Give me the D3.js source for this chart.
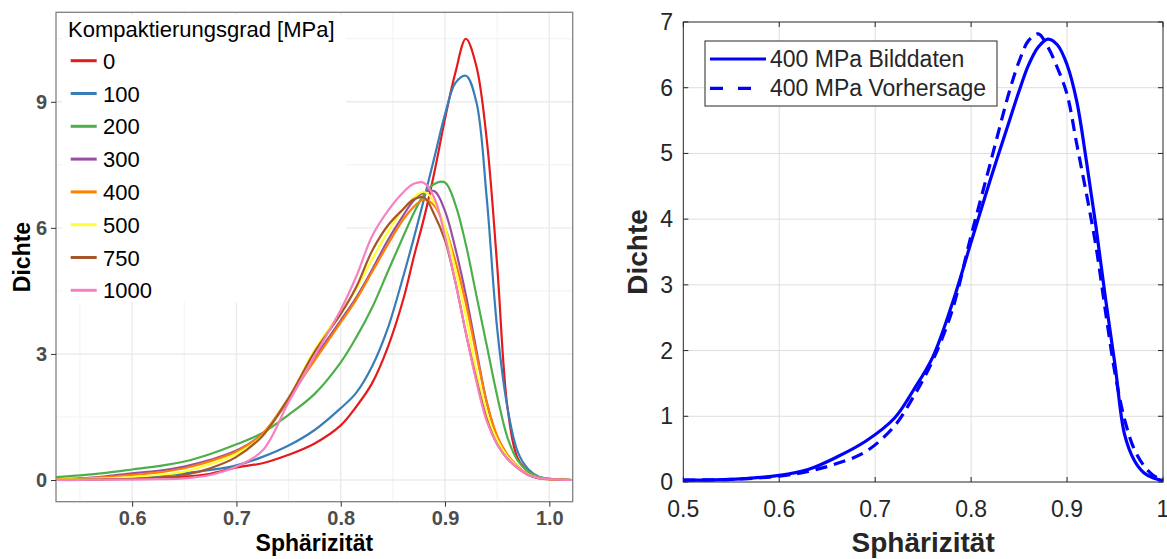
<!DOCTYPE html>
<html>
<head>
<meta charset="utf-8">
<script src="https://d3js.org/d3.v7.min.js"></script>
<style>
  body { margin: 0; background: #fff; }
  svg text { font-family: "Liberation Sans", Arial, sans-serif; }
</style>
</head>
<body>
<div id="chart"></div>
<script>
// ---- data, left panel (density per compaction level) ----
const xsLeft = [0.527, 0.55, 0.575, 0.6, 0.625, 0.65, 0.675, 0.7, 0.725, 0.75, 0.775, 0.8, 0.815, 0.83, 0.845,
  0.86, 0.87, 0.88, 0.89, 0.9, 0.91, 0.92, 0.93, 0.94, 0.95, 0.96, 0.97, 0.98, 0.99, 1.0, 1.022]
const levels = ["0", "100", "200", "300", "400", "500", "750", "1000"]
const levelColors = ["#E41A1C", "#377EB8", "#4DAF4A", "#984EA3", "#FF7F00", "#FFFF33", "#A65628", "#F781BF"]
const dens0    = [0.01, 0.01, 0.02, 0.03, 0.05, 0.08, 0.15, 0.3, 0.4, 0.6, 0.87, 1.3, 1.75, 2.3, 3.15,
  4.3, 5.3, 6.25, 7.35, 8.6, 9.7, 10.5, 9.85, 8.1, 5.1, 1.7, 0.5, 0.2, 0.07, 0.02, 0]
const dens100  = [0.01, 0.02, 0.04, 0.06, 0.1, 0.16, 0.24, 0.35, 0.55, 0.82, 1.19, 1.71, 2.08, 2.7, 3.6,
  4.85, 5.75, 6.7, 7.7, 8.7, 9.45, 9.62, 9.0, 6.7, 3.6, 1.7, 0.65, 0.25, 0.08, 0.03, 0]
const dens200  = [0.07, 0.11, 0.17, 0.25, 0.33, 0.44, 0.62, 0.85, 1.12, 1.55, 2.05, 2.8, 3.4, 4.1, 4.95,
  5.8, 6.35, 6.8, 7.05, 7.08, 6.55, 5.6, 4.4, 3.2, 2.0, 1.0, 0.45, 0.2, 0.07, 0.03, 0]
const dens300  = [0.02, 0.04, 0.09, 0.16, 0.22, 0.32, 0.48, 0.7, 1.1, 1.9, 2.9, 3.8, 4.35, 5.0, 5.7,
  6.3, 6.65, 6.85, 6.87, 6.4, 5.5, 4.4, 3.1, 1.85, 1.0, 0.55, 0.3, 0.12, 0.04, 0.02, 0]
const dens400  = [0.01, 0.03, 0.07, 0.12, 0.18, 0.28, 0.45, 0.68, 1.1, 1.95, 2.85, 3.75, 4.3, 4.95, 5.6,
  6.2, 6.5, 6.68, 6.52, 6.0, 5.2, 4.2, 3.0, 1.85, 1.05, 0.6, 0.32, 0.14, 0.05, 0.02, 0]
const dens500  = [0.01, 0.02, 0.04, 0.07, 0.12, 0.2, 0.38, 0.62, 1.05, 1.95, 3.1, 4.0, 4.55, 5.25, 5.9,
  6.45, 6.72, 6.86, 6.6, 6.0, 5.0, 3.9, 2.6, 1.6, 0.95, 0.55, 0.3, 0.13, 0.05, 0.02, 0]
const dens750  = [0.0, 0.01, 0.02, 0.03, 0.06, 0.12, 0.28, 0.55, 1.05, 1.95, 3.05, 3.95, 4.6, 5.45, 6.05,
  6.45, 6.68, 6.72, 6.3, 5.7, 4.7, 3.5, 2.4, 1.45, 0.85, 0.5, 0.28, 0.12, 0.05, 0.02, 0]
const dens1000 = [0.0, 0.0, 0.01, 0.01, 0.02, 0.04, 0.12, 0.32, 0.7, 1.85, 2.95, 4.05, 4.85, 5.8, 6.4,
  6.85, 7.05, 7.07, 6.7, 5.8, 4.7, 3.5, 2.35, 1.4, 0.85, 0.5, 0.28, 0.12, 0.05, 0.02, 0]
const densLeft = [dens0, dens100, dens200, dens300, dens400, dens500, dens750, dens1000]
const xTicksLeft = [0.6, 0.7, 0.8, 0.9, 1.0]
const yTicksLeft = [0, 3, 6, 9]

// ---- data, right panel (400 MPa image vs prediction) ----
const xsRight = [0.5, 0.55, 0.6, 0.63, 0.66, 0.69, 0.72, 0.74, 0.76, 0.78, 0.8, 0.82, 0.84, 0.85, 0.86,
  0.87, 0.88, 0.89, 0.9, 0.91, 0.92, 0.93, 0.94, 0.95, 0.96, 0.97, 0.98, 0.99, 1.0]
const bilddaten   = [0.03, 0.04, 0.1, 0.19, 0.38, 0.62, 0.97, 1.4, 1.9, 2.7, 3.65, 4.6, 5.5, 5.95, 6.35,
  6.62, 6.74, 6.65, 6.35, 5.8, 4.9, 3.9, 2.8, 1.78, 0.72, 0.33, 0.14, 0.06, 0.02]
const vorhersage  = [0.03, 0.04, 0.09, 0.16, 0.28, 0.46, 0.85, 1.3, 1.85, 2.6, 3.75, 4.85, 5.95, 6.4, 6.72,
  6.82, 6.62, 6.3, 5.9, 5.15, 4.4, 3.6, 2.6, 1.65, 0.95, 0.5, 0.25, 0.1, 0.03]
const legendRight = ["400 MPa Bilddaten", "400 MPa Vorhersage"]
const xTicksRight = [0.5, 0.6, 0.7, 0.8, 0.9, 1]
const yTicksRight = [0, 1, 2, 3, 4, 5, 6, 7]

const W = 1167, H = 559

var svg = d3.select("#chart").append("svg")
  .attr("width", W)
  .attr("height", H)

// ================= LEFT PANEL (ggplot look) =================
const L = {left: 56, right: 572.7, top: 12.3, bottom: 501.7}

var xL = d3.scaleLinear().domain([0.527, 1.0224]).range([L.left, L.right])
var yL = d3.scaleLinear().domain([-0.516, 11.13]).range([L.bottom, L.top])

var gL = svg.append("g")

// minor grid
gL.append("g").selectAll("line")
  .data([0.55, 0.65, 0.75, 0.85, 0.95])
  .enter().append("line")
  .attr("x1", d => xL(d)).attr("x2", d => xL(d))
  .attr("y1", L.top).attr("y2", L.bottom)
  .attr("stroke", "#f2f2f2").attr("stroke-width", 1)
gL.append("g").selectAll("line")
  .data([1.5, 4.5, 7.5, 10.5])
  .enter().append("line")
  .attr("x1", L.left).attr("x2", L.right)
  .attr("y1", d => yL(d)).attr("y2", d => yL(d))
  .attr("stroke", "#f2f2f2").attr("stroke-width", 1)
// major grid
gL.append("g").selectAll("line")
  .data(xTicksLeft)
  .enter().append("line")
  .attr("x1", d => xL(d)).attr("x2", d => xL(d))
  .attr("y1", L.top).attr("y2", L.bottom)
  .attr("stroke", "#ebebeb").attr("stroke-width", 1.4)
gL.append("g").selectAll("line")
  .data(yTicksLeft)
  .enter().append("line")
  .attr("x1", L.left).attr("x2", L.right)
  .attr("y1", d => yL(d)).attr("y2", d => yL(d))
  .attr("stroke", "#ebebeb").attr("stroke-width", 1.4)

// legend background hides the grid (drawn before the curves)
gL.append("rect")
  .attr("x", 62).attr("y", 15)
  .attr("width", 284).attr("height", 287)
  .attr("fill", "#fff")

svg.append("clipPath").attr("id", "clipL")
  .append("rect")
  .attr("x", L.left).attr("y", L.top)
  .attr("width", L.right - L.left).attr("height", L.bottom - L.top)

var lineL = d3.line()
  .x(d => xL(d[0]))
  .y(d => yL(d[1]))
  .curve(d3.curveCatmullRom.alpha(0.5))

gL.append("g").attr("clip-path", "url(#clipL)")
  .selectAll("path")
  .data(densLeft)
  .enter().append("path")
  .attr("fill", "none")
  .attr("stroke", (d, i) => levelColors[i])
  .attr("stroke-width", 2.2)
  .attr("d", d => lineL(d.map((v, j) => [xsLeft[j], v])))

gL.append("text")
  .attr("x", 68).attr("y", 37)
  .style("font-size", "22px")
  .attr("fill", "#000")
  .text("Kompaktierungsgrad [MPa]")
var legL = gL.append("g").selectAll("g")
  .data(levels)
  .enter().append("g")
  .attr("transform", (d, i) => "translate(0," + (60.7 + i * 32.8) + ")")
legL.append("line")
  .attr("x1", 70.7).attr("x2", 96.7)
  .attr("stroke", (d, i) => levelColors[i])
  .attr("stroke-width", 3)
legL.append("text")
  .attr("x", 103).attr("y", 8)
  .style("font-size", "22px")
  .attr("fill", "#000")
  .text(d => d)

// panel border
gL.append("rect")
  .attr("x", L.left).attr("y", L.top)
  .attr("width", L.right - L.left).attr("height", L.bottom - L.top)
  .attr("fill", "none").attr("stroke", "#808080").attr("stroke-width", 1.3)

// axes
var axXL = gL.append("g")
  .attr("transform", "translate(0," + L.bottom + ")")
  .call(d3.axisBottom(xL).tickValues(xTicksLeft).tickFormat(d3.format(".1f")).tickSize(5).tickPadding(4))
var axYL = gL.append("g")
  .attr("transform", "translate(" + L.left + ",0)")
  .call(d3.axisLeft(yL).tickValues(yTicksLeft).tickSize(5).tickPadding(4))
;[axXL, axYL].forEach(a => {
  a.select(".domain").remove()
  a.selectAll("line").attr("stroke", "#333")
  a.selectAll("text")
    .style("font-size", "20px")
    .style("font-weight", "bold")
    .style("font-family", "'Liberation Sans', Arial, sans-serif")
    .attr("fill", "#4d4d4d")
})

gL.append("text")
  .attr("x", (L.left + L.right) / 2).attr("y", 551)
  .attr("text-anchor", "middle")
  .style("font-size", "23px").style("font-weight", "bold")
  .text("Sphärizität")
gL.append("text")
  .attr("transform", "translate(30," + ((L.top + L.bottom) / 2) + ") rotate(-90)")
  .attr("text-anchor", "middle")
  .style("font-size", "23px").style("font-weight", "bold")
  .text("Dichte")

// ================= RIGHT PANEL (MATLAB look) =================
const R = {left: 683.3, right: 1163, top: 22, bottom: 482}

var xR = d3.scaleLinear().domain([0.5, 1]).range([R.left, R.right])
var yR = d3.scaleLinear().domain([0, 7]).range([R.bottom, R.top])

var gR = svg.append("g")

gR.append("g").selectAll("line")
  .data(xTicksRight.slice(1, -1))
  .enter().append("line")
  .attr("x1", d => xR(d)).attr("x2", d => xR(d))
  .attr("y1", R.top).attr("y2", R.bottom)
  .attr("stroke", "#dedede").attr("stroke-width", 1)
gR.append("g").selectAll("line")
  .data(yTicksRight.slice(1, -1))
  .enter().append("line")
  .attr("x1", R.left).attr("x2", R.right)
  .attr("y1", d => yR(d)).attr("y2", d => yR(d))
  .attr("stroke", "#dedede").attr("stroke-width", 1)

var lineR = d3.line()
  .x(d => xR(d[0]))
  .y(d => yR(d[1]))
  .curve(d3.curveCatmullRom.alpha(0.5))

gR.append("path")
  .attr("fill", "none").attr("stroke", "#0000ff").attr("stroke-width", 3.2)
  .attr("d", lineR(bilddaten.map((v, j) => [xsRight[j], v])))
gR.append("path")
  .attr("fill", "none").attr("stroke", "#0000ff").attr("stroke-width", 3.2)
  .attr("stroke-dasharray", "12,7")
  .attr("d", lineR(vorhersage.map((v, j) => [xsRight[j], v])))

// box with inward ticks on all sides
gR.append("rect")
  .attr("x", R.left).attr("y", R.top)
  .attr("width", R.right - R.left).attr("height", R.bottom - R.top)
  .attr("fill", "none").attr("stroke", "#262626").attr("stroke-width", 1)
var tk = 5
xTicksRight.forEach(function(t) {
  gR.append("line").attr("x1", xR(t)).attr("x2", xR(t)).attr("y1", R.bottom).attr("y2", R.bottom - tk).attr("stroke", "#262626")
  gR.append("line").attr("x1", xR(t)).attr("x2", xR(t)).attr("y1", R.top).attr("y2", R.top + tk).attr("stroke", "#262626")
})
yTicksRight.forEach(function(t) {
  gR.append("line").attr("x1", R.left).attr("x2", R.left + tk).attr("y1", yR(t)).attr("y2", yR(t)).attr("stroke", "#262626")
  gR.append("line").attr("x1", R.right).attr("x2", R.right - tk).attr("y1", yR(t)).attr("y2", yR(t)).attr("stroke", "#262626")
})

gR.append("g").selectAll("text")
  .data(xTicksRight)
  .enter().append("text")
  .attr("x", d => xR(d)).attr("y", 517)
  .attr("text-anchor", "middle")
  .style("font-size", "23px").attr("fill", "#262626")
  .text(d => d)
gR.append("g").selectAll("text")
  .data(yTicksRight)
  .enter().append("text")
  .attr("x", 673).attr("y", d => yR(d) + 8)
  .attr("text-anchor", "end")
  .style("font-size", "23px").attr("fill", "#262626")
  .text(d => d)

gR.append("text")
  .attr("x", (R.left + R.right) / 2).attr("y", 552)
  .attr("text-anchor", "middle")
  .style("font-size", "28px").style("font-weight", "bold").attr("fill", "#262626")
  .text("Sphärizität")
gR.append("text")
  .attr("transform", "translate(647," + ((R.top + R.bottom) / 2) + ") rotate(-90)")
  .attr("text-anchor", "middle")
  .style("font-size", "28px").style("font-weight", "bold").attr("fill", "#262626")
  .text("Dichte")

// legend
gR.append("rect")
  .attr("x", 705).attr("y", 41)
  .attr("width", 292).attr("height", 65)
  .attr("fill", "#fff").attr("stroke", "#262626").attr("stroke-width", 1)
var legR = gR.append("g").selectAll("g")
  .data(legendRight)
  .enter().append("g")
  .attr("transform", (d, i) => "translate(0," + (59 + i * 29.3) + ")")
legR.append("line")
  .attr("x1", 710).attr("x2", 766)
  .attr("stroke", "#0000ff").attr("stroke-width", 3.2)
  .attr("stroke-dasharray", (d, i) => i == 1 ? "13,15" : null)
legR.append("text")
  .attr("x", 770).attr("y", 8)
  .style("font-size", "23px").attr("fill", "#262626")
  .text(d => d)
</script>
</body>
</html>
